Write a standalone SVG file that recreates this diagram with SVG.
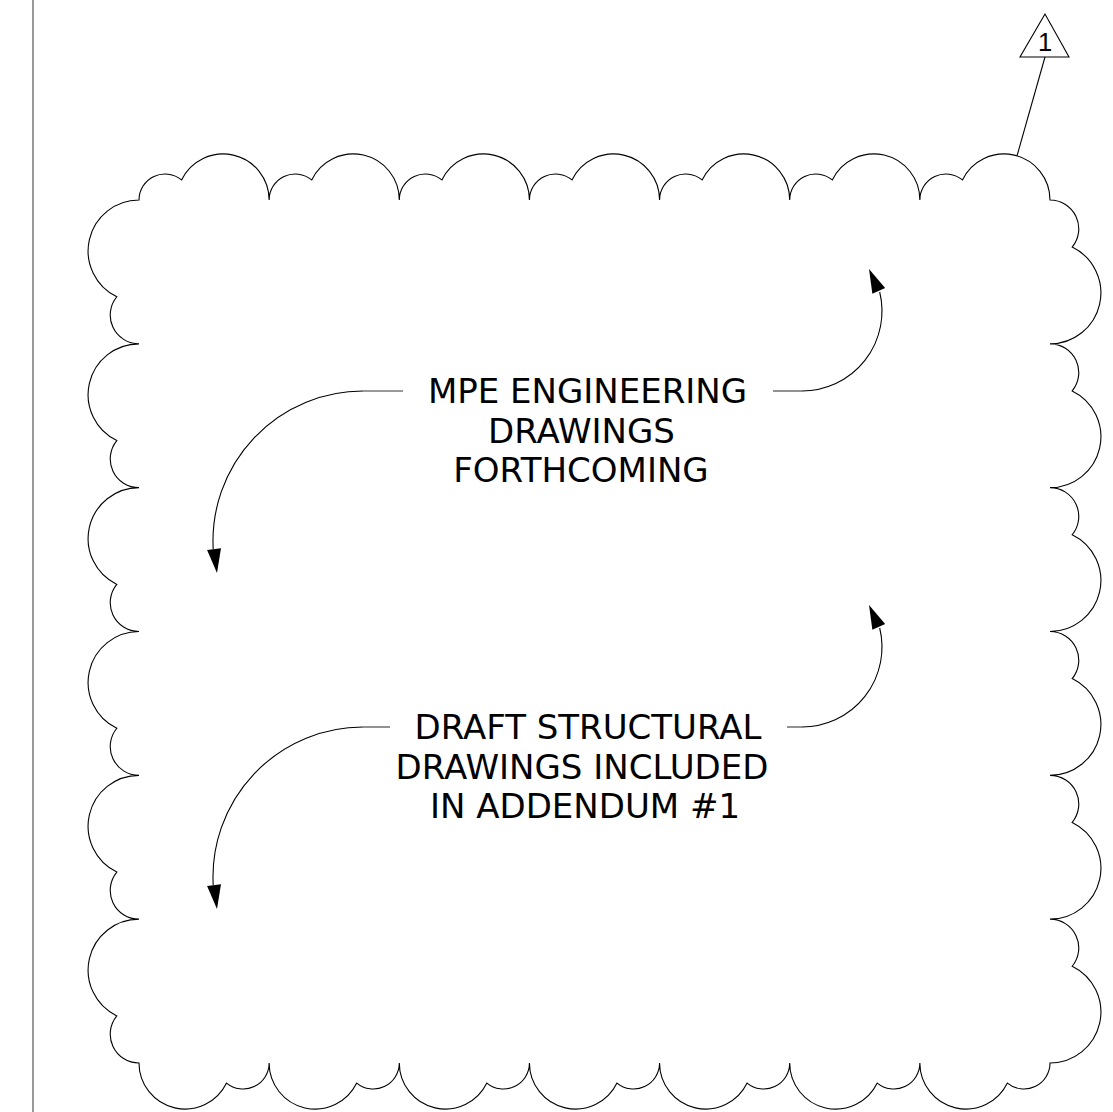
<svg xmlns="http://www.w3.org/2000/svg" width="1113" height="1112" viewBox="0 0 1113 1112">
<style>
.cloud{fill:none;stroke:#000;stroke-width:1.1}
.lead{fill:none;stroke:#000;stroke-width:1.1}
.leadg{fill:none;stroke:#777;stroke-width:1.6}
.note{font-family:"DejaVu Sans",Verdana,sans-serif;font-size:34px;fill:#000;text-anchor:middle}
.tag{font-family:"Liberation Sans",Arial,sans-serif;font-size:25.5px;fill:#000;text-anchor:middle}
</style>
<defs>
<path id="ah" d="M0,0 L-24,-7 L-24,7 Z" fill="#000"/>
</defs>
<rect x="0" y="0" width="1113" height="1112" fill="#fff"/>
<line x1="33" y1="0" x2="33" y2="1112" stroke="#555" stroke-width="1.2"/>
<g id="cloud">
<path class="cloud" d="M139,200
A26.03 26.03 0 0 1 181.6,179.93 A46.07 46.07 0 0 1 269.14,200
A26.03 26.03 0 0 1 311.74,179.93 A46.07 46.07 0 0 1 399.29,200
A26.03 26.03 0 0 1 441.89,179.93 A46.07 46.07 0 0 1 529.43,200
A26.03 26.03 0 0 1 572.03,179.93 A46.07 46.07 0 0 1 659.57,200
A26.03 26.03 0 0 1 702.17,179.93 A46.07 46.07 0 0 1 789.71,200
A26.03 26.03 0 0 1 832.31,179.93 A46.07 46.07 0 0 1 919.86,200
A26.03 26.03 0 0 1 962.46,179.93 A46.07 46.07 0 0 1 1050,200
A28.77 28.77 0 0 1 1072.18,247.09 A50.92 50.92 0 0 1 1050,343.83
A28.77 28.77 0 0 1 1072.18,390.92 A50.92 50.92 0 0 1 1050,487.67
A28.77 28.77 0 0 1 1072.18,534.76 A50.92 50.92 0 0 1 1050,631.5
A28.77 28.77 0 0 1 1072.18,678.59 A50.92 50.92 0 0 1 1050,775.33
A28.77 28.77 0 0 1 1072.18,822.42 A50.92 50.92 0 0 1 1050,919.17
A28.77 28.77 0 0 1 1072.18,966.26 A50.92 50.92 0 0 1 1050,1063
A26.03 26.03 0 0 1 1007.4,1083.07 A46.07 46.07 0 0 1 919.86,1063
A26.03 26.03 0 0 1 877.26,1083.07 A46.07 46.07 0 0 1 789.71,1063
A26.03 26.03 0 0 1 747.11,1083.07 A46.07 46.07 0 0 1 659.57,1063
A26.03 26.03 0 0 1 616.97,1083.07 A46.07 46.07 0 0 1 529.43,1063
A26.03 26.03 0 0 1 486.83,1083.07 A46.07 46.07 0 0 1 399.29,1063
A26.03 26.03 0 0 1 356.69,1083.07 A46.07 46.07 0 0 1 269.14,1063
A26.03 26.03 0 0 1 226.54,1083.07 A46.07 46.07 0 0 1 139,1063
A28.77 28.77 0 0 1 116.82,1015.91 A50.92 50.92 0 0 1 139,919.17
A28.77 28.77 0 0 1 116.82,872.08 A50.92 50.92 0 0 1 139,775.33
A28.77 28.77 0 0 1 116.82,728.24 A50.92 50.92 0 0 1 139,631.5
A28.77 28.77 0 0 1 116.82,584.41 A50.92 50.92 0 0 1 139,487.67
A28.77 28.77 0 0 1 116.82,440.58 A50.92 50.92 0 0 1 139,343.83
A28.77 28.77 0 0 1 116.82,296.74 A50.92 50.92 0 0 1 139,200 Z"/>
</g>
<g id="rev-tag">
<polygon points="1045,14 1020,57 1069,57" fill="#fff" stroke="#000" stroke-width="1.1"/>
<text class="tag" x="1045" y="50.5">1</text>
</g>
<g id="note-mpe">
<text class="note" x="587.5" y="403">MPE ENGINEERING</text>
<text class="note" x="581.5" y="442.5">DRAWINGS</text>
<text class="note" x="581" y="482">FORTHCOMING</text>
</g>
<g id="note-structural">
<text class="note" x="588" y="739">DRAFT STRUCTURAL</text>
<text class="note" x="582" y="778.5">DRAWINGS INCLUDED</text>
<text class="note" x="585" y="818">IN ADDENDUM #1</text>
</g>
<g id="connectors">
<line class="lead" x1="1045" y1="57" x2="1017" y2="155.8"/>
<path class="leadg" d="M403,391 H363"/>
<path class="lead" d="M363,391 A150 150 0 0 0 213.2,549"/>
<use href="#ah" transform="translate(217,573) rotate(82.9)"/>
<path class="leadg" d="M773,391 H802"/>
<path class="lead" d="M802,391 A80 80 0 0 0 879.7,292"/>
<use href="#ah" transform="translate(869,269) rotate(246)"/>
<path class="leadg" d="M390,727 H363"/>
<path class="lead" d="M363,727 A150 150 0 0 0 213.2,885"/>
<use href="#ah" transform="translate(217,909) rotate(82.9)"/>
<path class="leadg" d="M787,727 H802"/>
<path class="lead" d="M802,727 A80 80 0 0 0 879.7,628"/>
<use href="#ah" transform="translate(869,605) rotate(246)"/>
</g>
</svg>
